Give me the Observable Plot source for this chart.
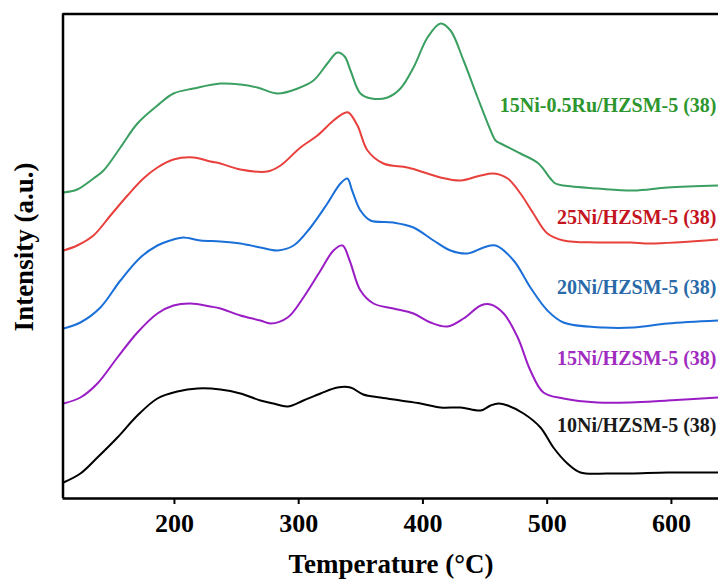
<!DOCTYPE html>
<html>
<head>
<meta charset="utf-8">
<script src="https://cdn.jsdelivr.net/npm/d3@7"></script>
<script src="https://cdn.jsdelivr.net/npm/@observablehq/plot@0.6"></script>
<style>
  html, body { margin: 0; padding: 0; background: #fff; }
  #chart { width: 718px; height: 580px; }
</style>
</head>
<body>
<div id="chart"></div>
<script>
// Series names (top to bottom in the figure)
const seriesNames = ["15Ni-0.5Ru/HZSM-5 (38)", "25Ni/HZSM-5 (38)", "20Ni/HZSM-5 (38)", "15Ni/HZSM-5 (38)", "10Ni/HZSM-5 (38)"];
const lineColors = ["#3a9f60", "#e8403c", "#1a6fd8", "#9a1cc4", "#000000"];
const labelColors = ["#2e962f", "#c4141e", "#2a6aa8", "#a02cc0", "#1a1a1a"];

// Temperatures (°C) and intensities (a.u., stacked offsets as drawn)
const tGreen = [110.7,121.7,134.8,142.9,156.5,170.2,186.3,199.2,215.3,237.0,253.1,266.8,283.0,299.1,311.9,323.1,331.2,337.0,341.7,349.7,358.6,371.5,381.9,392.4,403.7,414.2,422.2,432.7,444.0,454.5,458.5,462.6,478.5,493.0,502.6,506.6,513.1,540.5,569.5,596.9,637.9];
const iGreen = [306,309,320,328,351,375,393,405,410,415,414,411,405,410,418,435,446,442,428,405,400,401,410,431,461,475,468,438,401,368,358,355,345,335,320,315,313,310,308,311,313];

const tRed = [110.7,121.7,134.8,148.5,162.2,175.0,186.3,199.2,215.3,229.0,237.0,253.1,274.8,285.4,301.4,315.1,328.0,336.0,340.0,347.3,355.4,368.2,387.6,403.7,414.2,430.3,446.5,456.9,468.2,478.5,488.9,500.2,513.1,540.5,567.1,583.2,637.9];
const iRed = [248,253,263,283,303,320,331,339,341,337,335,329,327,333,351,363,378,385,386,373,348,335,331,325,321,318,323,325,320,305,285,265,258,256,256,255,259];

const tBlue = [110.7,124.3,140.4,156.5,172.6,186.3,199.2,207.2,220.9,237.0,253.1,269.2,283.0,295.9,309.5,323.1,333.6,339.2,343.0,349.7,357.8,376.3,392.4,408.5,422.2,435.9,448.9,458.5,473.0,486.5,500.2,513.1,545.4,569.5,596.9,637.9];
const iBlue = [170,176,191,218,241,253,259,261,258,257,255,251,248,253,271,295,315,320,308,288,278,276,271,258,248,245,251,253,238,211,188,176,171,171,175,178];

const tPurple = [110.7,124.3,138.0,154.1,170.2,186.3,199.2,212.9,229.0,237.0,253.1,269.2,277.3,291.1,303.8,317.6,328.0,335.3,341.0,349.7,360.2,376.3,392.4,406.1,419.7,432.7,446.5,454.5,465.0,476.3,486.5,497.0,513.1,540.5,567.1,596.9,637.9];
const iPurple = [95,101,115,141,166,185,193,195,192,190,183,178,175,181,201,228,248,253,238,208,195,190,185,176,172,180,193,194,185,161,128,106,100,96,96,98,101];

const tBlack = [110.7,124.3,138.0,154.1,170.2,186.3,202.4,218.5,237.0,253.1,269.2,279.7,291.1,303.8,317.6,331.2,341.7,352.0,365.8,381.9,398.1,414.2,430.3,446.5,454.5,460.9,468.2,481.0,494.6,505.0,516.3,526.8,548.6,567.1,596.9,637.9];
const iBlack = [16,25,41,61,83,100,107,110,109,105,98,95,92,98,105,111,111,104,101,98,95,91,91,88,93,95,93,85,71,51,35,26,25,25,26,26];

// Label annotation heights (a.u.)
const labelIntensity = [393, 281, 211, 140, 73];

// X-axis ticks
const xTicks = [200, 300, 400, 500, 600];

const temps = [tGreen, tRed, tBlue, tPurple, tBlack];
const ints = [iGreen, iRed, iBlue, iPurple, iBlack];

const rows = [];
seriesNames.forEach((name, s) => {
  temps[s].forEach((t, i) => rows.push({series: name, T: t, I: ints[s][i]}));
});
const labels = seriesNames.map((name, s) => ({series: name, I: labelIntensity[s], c: labelColors[s]}));

const xMin = 110.3, xMax = 637.9, yMax = 484.5;

const plot = Plot.plot({
  width: 718,
  height: 580,
  marginLeft: 62.5,
  marginRight: 0,
  marginTop: 13.5,
  marginBottom: 82,
  style: {fontFamily: "'Liberation Serif', 'Times New Roman', serif", fontWeight: "bold", background: "#fff"},
  x: {domain: [xMin, xMax]},
  y: {domain: [0, yMax]},
  color: {domain: seriesNames, range: lineColors},
  marks: [
    Plot.line(rows, {x: "T", y: "I", z: "series", stroke: "series", strokeWidth: 2, curve: "catmull-rom"}),
    Plot.text(labels, {x: xMax, y: "I", text: "series", fill: "c", textAnchor: "end", dx: -2, fontSize: 20, fontWeight: "bold"}),
    Plot.ruleX([xMin], {stroke: "#000", strokeWidth: 2.5}),
    Plot.ruleY([0, yMax], {stroke: "#000", strokeWidth: 2.5}),
    Plot.axisX({ticks: xTicks, tickSize: 6, tickPadding: 9, fontSize: 26, fontWeight: "bold", stroke: "#000", strokeWidth: 2, fill: "#000", label: null, tickFormat: d => d}),
    Plot.axisY({ticks: [], label: null, tickSize: 0})
  ]
});

const svg = d3.select(plot);
// Axis titles as real text
svg.append("text")
  .attr("x", 391).attr("y", 567)
  .attr("text-anchor", "middle").attr("dominant-baseline", "middle")
  .attr("font-size", 27).attr("font-weight", "bold").attr("fill", "#000")
  .text("Temperature (°C)");
svg.append("text")
  .attr("transform", "translate(27,247) rotate(-90)")
  .attr("text-anchor", "middle").attr("dominant-baseline", "middle")
  .attr("font-size", 27).attr("font-weight", "bold").attr("fill", "#000")
  .text("Intensity (a.u.)");

document.getElementById("chart").appendChild(plot);
</script>
</body>
</html>
